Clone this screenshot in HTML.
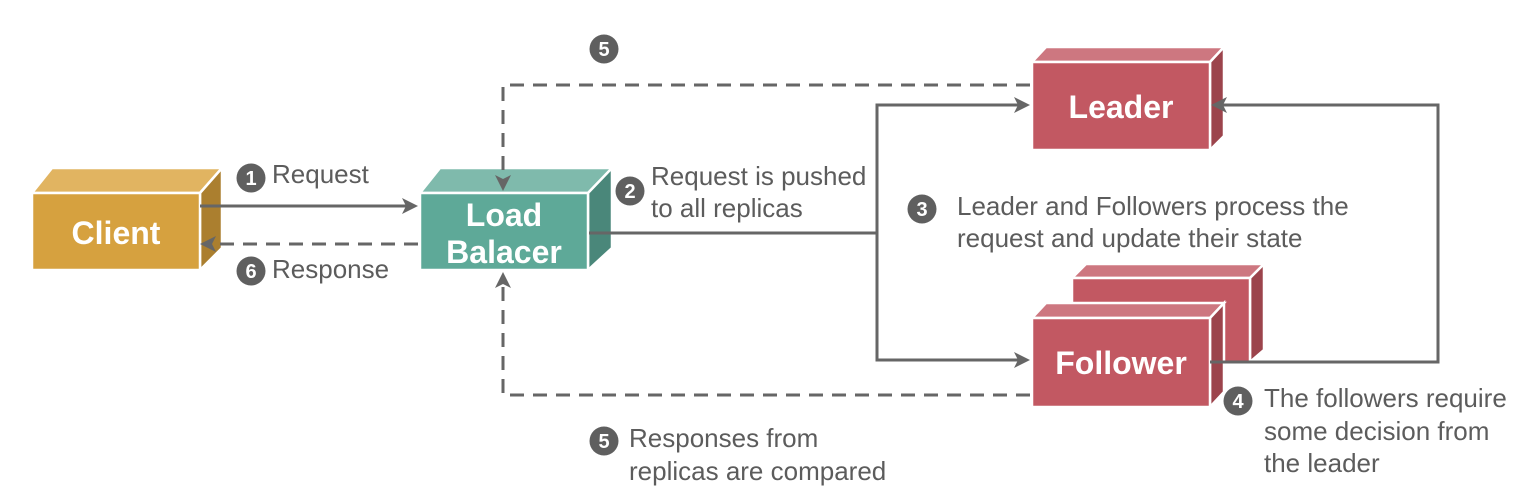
<!DOCTYPE html>
<html><head><meta charset="utf-8"><style>
html,body{margin:0;padding:0;background:#fff;}
svg{display:block;}
.t{font-family:"Liberation Sans",sans-serif;font-size:26px;fill:#5c5c5c;}
.n{font-family:"Liberation Sans",sans-serif;font-size:20px;font-weight:bold;fill:#fff;text-anchor:middle;}
.b{font-family:"Liberation Sans",sans-serif;font-size:32px;font-weight:bold;fill:#fff;text-anchor:middle;}
</style></head><body>
<svg width="1530" height="502" viewBox="0 0 1530 502" xmlns="http://www.w3.org/2000/svg">
<g stroke="#fff" stroke-width="2.5">
<polygon points="32,193 52,168 222,168 200,193" fill="#e1b461"/>
<polygon points="200,193 222,168 222,248 200,270" fill="#ab7f2f"/>
<rect x="32" y="193" width="168" height="77" fill="#d6a13f"/>
<polygon points="420,193 440,168 612,168 588,193" fill="#7fbaac"/>
<polygon points="588,193 612,168 612,248 588,270" fill="#4a877a"/>
<rect x="420" y="193" width="168" height="77" fill="#5ea998"/>
<polygon points="1032,62 1046,47 1224,47 1210,62" fill="#cd7780"/>
<polygon points="1210,62 1224,47 1224,136 1210,150" fill="#9c444c"/>
<rect x="1032" y="62" width="178" height="88" fill="#c25862"/>
<polygon points="1072,278 1086,264 1264,264 1250,278" fill="#cd7780"/>
<polygon points="1250,278 1264,264 1264,350 1250,362" fill="#9c444c"/>
<rect x="1072" y="278" width="178" height="85" fill="#c25862"/>
<polygon points="1032,318 1046,303 1224,303 1210,318" fill="#cd7780"/>
<polygon points="1210,318 1224,303 1224,392 1210,407" fill="#9c444c"/>
<rect x="1032" y="318" width="178" height="89" fill="#c25862"/>
</g>
<g stroke="#666" stroke-width="3" fill="none">
<path d="M1030,85 H503 V188" stroke-dasharray="14,9"/>
<path d="M1030,395 H503 V276" stroke-dasharray="14,9"/>
<path d="M418,244 H204" stroke-dasharray="14,9"/>
<path d="M200,206 H414"/>
<path d="M589,233 H877"/>
<path d="M877,360 V105 H1026"/>
<path d="M877,233 V360 H1026"/>
<path d="M1210,362 H1438 V105 H1216"/>
</g>
<g fill="#666">
<path d="M418,206 l-16,-8 l4,8 l-4,8 z"/>
<path d="M1030,105 l-16,-8 l4,8 l-4,8 z"/>
<path d="M1030,360 l-16,-8 l4,8 l-4,8 z"/>
<path d="M1211,105 l16,-8 l-4,8 l4,8 z"/>
<path d="M200,244 l16,-8 l-4,8 l4,8 z"/>
<path d="M503,191 l-8,-16 l8,4 l8,-4 z"/>
<path d="M503,272 l-8,16 l8,-4 l8,4 z"/>
</g>
<text class="b" x="116" y="244">Client</text>
<text class="b" x="504" y="226">Load</text>
<text class="b" x="504" y="263">Balacer</text>
<text class="b" x="1121" y="118">Leader</text>
<text class="b" x="1121" y="374">Follower</text>
<g fill="#5f5f5f">
<circle cx="604" cy="49" r="14.5"/><circle cx="251" cy="178" r="14.5"/><circle cx="251" cy="271" r="14.5"/>
<circle cx="630" cy="191" r="14.5"/><circle cx="922" cy="209" r="14.5"/><circle cx="1238" cy="401" r="14.5"/>
<circle cx="604" cy="441" r="14.5"/>
</g>
<text class="n" x="604" y="56">5</text><text class="n" x="251" y="185">1</text><text class="n" x="251" y="278">6</text>
<text class="n" x="630" y="198">2</text><text class="n" x="922" y="216">3</text><text class="n" x="1238" y="408">4</text>
<text class="n" x="604" y="448">5</text>
<text class="t" x="272" y="183">Request</text>
<text class="t" x="272" y="278">Response</text>
<text class="t" x="651" y="185">Request is pushed</text>
<text class="t" x="651" y="217">to all replicas</text>
<text class="t" x="957" y="215">Leader and Followers process the</text>
<text class="t" x="957" y="247">request and update their state</text>
<text class="t" x="1264" y="407">The followers require</text>
<text class="t" x="1264" y="440">some decision from</text>
<text class="t" x="1264" y="472">the leader</text>
<text class="t" x="629" y="447">Responses from</text>
<text class="t" x="629" y="480">replicas are compared</text>
</svg>
</body></html>
